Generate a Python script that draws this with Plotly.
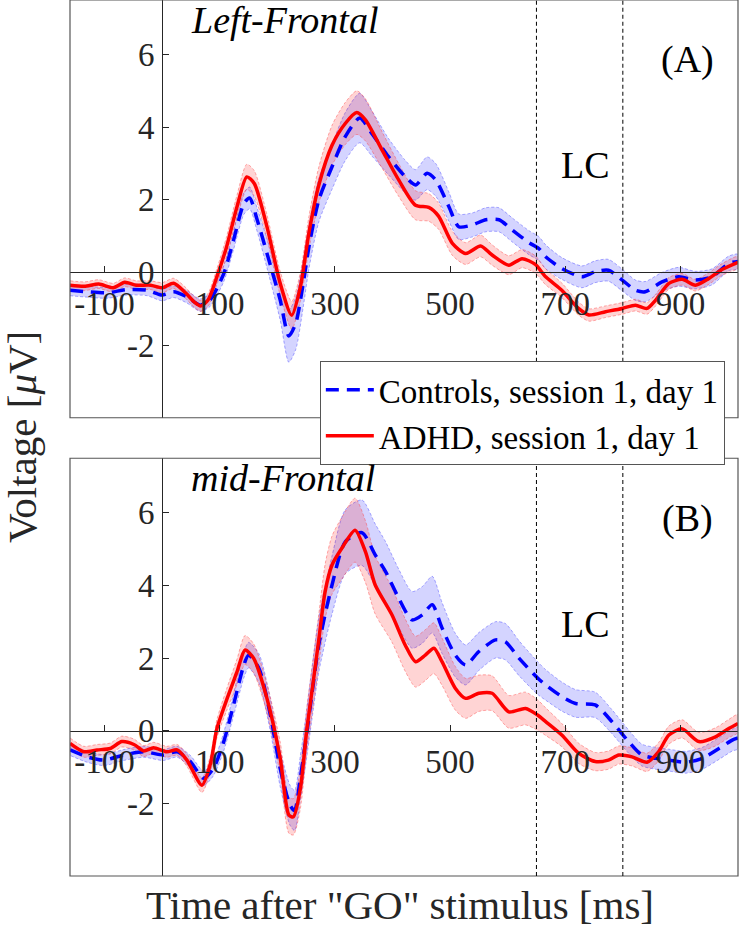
import plotly.graph_objects as go

# ---------------- data ----------------
x_range = [-160, 1000]
y_range = [-4, 7.5]
x_ticks = [-100, 100, 300, 500, 700, 900]
x_ticklabels = ["-100", "100", "300", "500", "700", "900"]
y_ticks = [-2, 0, 2, 4, 6]
y_ticklabels = ["-2", "0", "2", "4", "6"]
lc_window = [650, 800]

# Panel A  (Left-Frontal)
tA_ctrl = [-160, -130, -95, -61, -26, 0, 20, 43, 66, 83, 107, 124, 142, 152, 165, 182, 205, 220, 232, 245,
           255, 272, 295, 318, 343, 364, 393, 422, 440, 460, 475, 498, 515, 539, 562, 585, 608, 637, 654, 666,
           694, 729, 752, 775, 799, 822, 839, 868, 897, 926, 955, 984, 1000]
vA_ctrl = [-0.49, -0.53, -0.56, -0.47, -0.49, -0.62, -0.53, -0.67, -0.90, -0.76, -0.03, 0.89, 1.90, 2.05, 1.45,
           0.53, -0.76, -1.75, -1.40, -0.30, 0.71, 1.99, 2.91, 3.74, 4.25, 3.83, 3.19, 2.64, 2.41, 2.73, 2.55,
           1.81, 1.26, 1.31, 1.45, 1.45, 1.17, 0.82, 0.66, 0.43, 0.11, -0.12, 0.02, 0.06, -0.21, -0.49, -0.53,
           -0.26, -0.12, -0.21, -0.12, 0.25, 0.30]
sA_ctrl = [.15, .15, .15, .15, .15, .16, .16, .17, .17, .18, .22, .26, .30, .30, .32, .40, .55, .72, .72, .65,
           .60, .60, .62, .66, .68, .62, .50, .45, .42, .45, .45, .40, .35, .33, .33, .33, .33, .33, .33, .33,
           .30, .30, .30, .30, .30, .28, .28, .26, .26, .24, .22, .20, .20]

tA_adhd = [-160, -135, -110, -85, -65, -45, -20, 0, 20, 40, 55, 67, 80, 95, 112, 130, 147, 160, 182, 205,
           225, 240, 255, 272, 295, 318, 338, 353, 382, 411, 440, 463, 480, 504, 527, 553, 573, 602, 625, 648,
           666, 694, 723, 741, 770, 799, 822, 842, 857, 880, 903, 926, 949, 972, 1000]
vA_adhd = [-0.35, -0.38, -0.32, -0.42, -0.27, -0.35, -0.35, -0.42, -0.30, -0.55, -0.80, -0.92, -0.75, -0.12,
           0.71, 1.81, 2.63, 2.45, 1.26, -0.30, -1.18, -0.40, 1.10, 2.40, 3.50, 4.10, 4.40, 4.20, 3.37, 2.54,
           1.85, 1.79, 1.55, 0.80, 0.52, 0.73, 0.48, 0.20, 0.38, 0.22, -0.12, -0.49, -0.99, -1.17, -1.08,
           -0.99, -0.90, -0.99, -0.76, -0.30, -0.19, -0.35, -0.17, 0.08, 0.28]
sA_adhd = [.12, .12, .12, .12, .12, .12, .12, .14, .14, .15, .15, .15, .18, .22, .28, .32, .35, .35, .33, .33,
           .38, .40, .45, .50, .55, .58, .60, .58, .50, .45, .40, .38, .36, .33, .30, .30, .28, .26, .25, .24,
           .22, .20, .18, .17, .16, .16, .16, .16, .16, .16, .16, .16, .16, .16, .16]

# Panel B  (mid-Frontal)
tB_ctrl = [-160, -130, -101, -67, -32, 2, 26, 49, 72, 89, 107, 124, 142, 150, 168, 188, 205, 222, 230, 240,
           250, 260, 272, 295, 318, 347, 370, 388, 411, 434, 452, 469, 486, 509, 527, 550, 579, 596, 620, 652,
           666, 694, 718, 752, 781, 810, 833, 857, 880, 909, 938, 967, 990, 1000]
vB_ctrl = [-0.53, -0.72, -0.81, -0.67, -0.58, -0.67, -0.58, -0.85, -1.31, -1.04, -0.30, 0.71, 1.81, 2.08, 1.72,
           0.43, -1.04, -2.05, -2.20, -1.30, -0.20, 1.00, 2.36, 4.01, 5.20, 5.45, 4.84, 4.38, 3.64, 3.05, 3.19,
           3.47, 2.83, 2.08, 1.81, 2.18, 2.50, 2.45, 1.99, 1.45, 1.26, 0.94, 0.75, 0.71, 0.25, -0.30, -0.67,
           -0.76, -0.81, -0.87, -0.76, -0.49, -0.26, -0.20]
sB_ctrl = [.15, .15, .15, .15, .15, .15, .15, .17, .20, .20, .25, .30, .35, .35, .40, .45, .50, .55, .55, .60,
           .65, .70, .75, .80, .88, .90, .85, .82, .80, .78, .78, .78, .70, .60, .55, .52, .50, .50, .48, .45,
           .42, .40, .38, .35, .33, .32, .30, .30, .30, .30, .30, .30, .30, .30]

tB_adhd = [-160, -136, -113, -90, -70, -49, -32, -15, 8, 26, 43, 69, 84, 95, 112, 130, 144, 159, 182, 205,
           220, 228, 240, 251, 262, 272, 283, 295, 312, 335, 353, 370, 399, 422, 440, 457, 472, 486, 509, 527,
           550, 573, 602, 631, 652, 666, 694, 723, 752, 775, 793, 816, 842, 862, 880, 903, 932, 961, 984, 1000]
vB_adhd = [-0.35, -0.58, -0.53, -0.49, -0.30, -0.38, -0.56, -0.47, -0.58, -0.53, -0.81, -1.50, -0.90, 0.05,
           0.85, 1.62, 2.22, 1.99, 0.89, -0.76, -2.32, -2.37, -1.60, 0.00, 1.30, 2.50, 3.83, 4.56, 5.02, 5.52,
           4.93, 4.01, 3.19, 2.36, 1.90, 2.08, 2.27, 1.90, 1.17, 0.89, 1.03, 1.03, 0.52, 0.61, 0.43, 0.25,
           -0.12, -0.62, -0.85, -0.81, -0.67, -0.72, -0.87, -0.58, -0.12, 0.05, -0.30, -0.17, 0.06, 0.20]
sB_adhd = [.15, .15, .15, .15, .15, .15, .15, .15, .15, .15, .17, .20, .22, .25, .30, .35, .40, .40, .40, .45,
           .50, .50, .55, .60, .65, .70, .75, .80, .85, .88, .85, .80, .75, .72, .70, .70, .70, .65, .60, .55,
           .50, .48, .45, .45, .42, .38, .32, .28, .25, .25, .25, .25, .25, .25, .25, .25, .25, .25, .25, .25]

series_names = ["Controls, session 1, day 1", "ADHD, session 1, day 1"]
panel_titles = ["Left-Frontal", "mid-Frontal"]
panel_tags = ["(A)", "(B)"]
x_title = 'Time after "GO" stimulus [ms]'
y_title = "Voltage [<i>μ</i>V]"

for t, v, s in [(tA_ctrl, vA_ctrl, sA_ctrl), (tA_adhd, vA_adhd, sA_adhd),
                (tB_ctrl, vB_ctrl, sB_ctrl), (tB_adhd, vB_adhd, sB_adhd)]:
    assert len(t) == len(v) == len(s), (len(t), len(v), len(s))

# ---------------- styling ----------------
FONT = "Liberation Serif"
AX = "#262626"
BLUE = "rgb(0,0,255)"
RED = "rgb(255,0,0)"
BLUE_FILL = "rgba(0,0,255,0.17)"
RED_FILL = "rgba(255,0,0,0.17)"
BLUE_EDGE = "rgba(60,60,255,0.55)"
RED_EDGE = "rgba(255,60,60,0.55)"

top_dom = [0.5231, 1.0]
bot_dom = [0.0, 0.4769]


def zero_pos(dom, rng):
    return dom[0] + (0 - rng[0]) / (rng[1] - rng[0]) * (dom[1] - dom[0])


fig = go.Figure()

panels = [
    ("x", "y", (tA_ctrl, vA_ctrl, sA_ctrl), (tA_adhd, vA_adhd, sA_adhd), True),
    ("x2", "y2", (tB_ctrl, vB_ctrl, sB_ctrl), (tB_adhd, vB_adhd, sB_adhd), False),
]

for xa, ya, ctrl, adhd, show in panels:
    # bands
    for (t, v, s), fill, edge in [(ctrl, BLUE_FILL, BLUE_EDGE), (adhd, RED_FILL, RED_EDGE)]:
        up = [a + b for a, b in zip(v, s)]
        lo = [a - b for a, b in zip(v, s)]
        fig.add_trace(go.Scatter(
            x=list(t) + list(t)[::-1], y=up + lo[::-1], fill="toself", fillcolor=fill,
            line=dict(color=edge, width=0.8, dash="3px,2px", shape="spline", smoothing=0.7),
            mode="lines", hoverinfo="skip", showlegend=False, xaxis=xa, yaxis=ya))
    # means
    t, v, s = ctrl
    fig.add_trace(go.Scatter(
        x=t, y=v, mode="lines", name=series_names[0], showlegend=show,
        line=dict(color=BLUE, width=3.5, dash="13px,8px", shape="spline", smoothing=0.7),
        xaxis=xa, yaxis=ya))
    t, v, s = adhd
    fig.add_trace(go.Scatter(
        x=t, y=v, mode="lines", name=series_names[1], showlegend=show,
        line=dict(color=RED, width=3.5, shape="spline", smoothing=0.7),
        xaxis=xa, yaxis=ya))

tickfont = dict(family=FONT, size=33, color=AX)
common_x = dict(range=x_range, tickvals=x_ticks, ticktext=x_ticklabels, ticks="inside", ticklen=6,
                tickcolor=AX, showline=True, linecolor=AX, linewidth=1, showgrid=False, zeroline=False,
                tickfont=tickfont, anchor="free", ticklabelstandoff=2, domain=[0, 1])
common_y = dict(range=y_range, tickvals=y_ticks, ticktext=y_ticklabels, ticks="inside", ticklen=6,
                tickcolor=AX, showline=True, linecolor=AX, linewidth=1, showgrid=False, zeroline=False,
                tickfont=tickfont, anchor="free", ticklabelstandoff=1)

x0pos = zero_pos([0, 1], x_range)
fig.update_layout(
    xaxis=dict(**common_x, position=zero_pos(top_dom, y_range)),
    yaxis=dict(**common_y, domain=top_dom, position=x0pos),
    xaxis2=dict(**common_x, position=zero_pos(bot_dom, y_range)),
    yaxis2=dict(**common_y, domain=bot_dom, position=x0pos),
)

shapes = []
annotations = []
for xa, ya, title, tag in [("x", "y", panel_titles[0], panel_tags[0]), ("x2", "y2", panel_titles[1], panel_tags[1])]:
    shapes.append(dict(type="rect", xref=f"{xa} domain", yref=f"{ya} domain", x0=0, x1=1, y0=0, y1=1,
                       line=dict(color="#555555", width=1.2), layer="above"))
    for xv in lc_window:
        shapes.append(dict(type="line", xref=xa, yref=f"{ya} domain", x0=xv, x1=xv, y0=0, y1=1,
                           line=dict(color="black", width=1, dash="4px,3px"), layer="above"))
    annotations.append(dict(xref=xa, yref=ya, x=46, y=6.95, text=f"<i>{title}</i>", showarrow=False,
                            xanchor="left", yanchor="middle", font=dict(family=FONT, size=38, color="black")))
    annotations.append(dict(xref=xa, yref=ya, x=913, y=5.85, text=tag, showarrow=False,
                            xanchor="center", yanchor="middle", font=dict(family=FONT, size=38, color="black")))
    annotations.append(dict(xref=xa, yref=ya, x=sum(lc_window) / 2 + 10, y=2.95, text="LC", showarrow=False,
                            xanchor="center", yanchor="middle", font=dict(family=FONT, size=38, color="black")))

annotations.append(dict(xref="paper", yref="paper", x=0.494, y=-0.033, text=x_title, showarrow=False,
                        xanchor="center", yanchor="middle", font=dict(family=FONT, size=41, color=AX)))
annotations.append(dict(xref="paper", yref="paper", x=-0.072, y=0.501, text=y_title, showarrow=False,
                        textangle=-90, xanchor="center", yanchor="middle",
                        font=dict(family=FONT, size=41, color=AX)))

fig.update_layout(
    width=739, height=934,
    margin=dict(l=70, r=1, t=0, b=58),
    plot_bgcolor="white", paper_bgcolor="white",
    shapes=shapes, annotations=annotations,
    legend=dict(x=0.374, y=0.588, xanchor="left", yanchor="top", bgcolor="white",
                bordercolor="#555555", borderwidth=1, font=dict(family=FONT, size=33, color="black"),
                tracegroupgap=0, itemwidth=48),
    showlegend=True,
)

fig.write_html("out.html", config={"displayModeBar": False},
               post_script="document.body.style.margin='0px';")
